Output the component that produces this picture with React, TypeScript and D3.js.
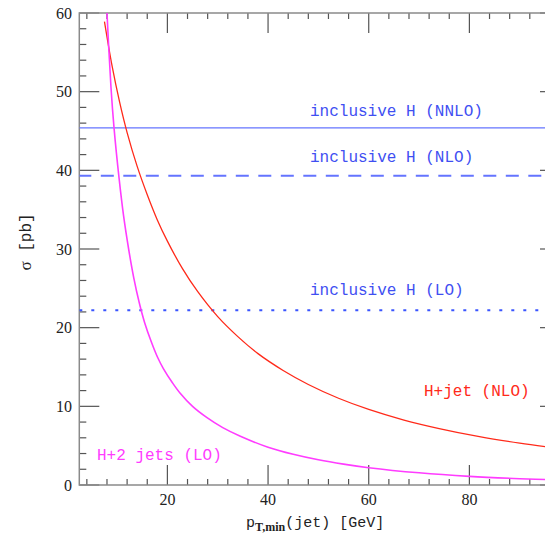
import React from "react";
import * as d3 from "d3";

const W = 545;
const H = 537;

// H+jet (NLO): pT,min [GeV] and sigma [pb]
const hjetPt = [7.5, 9, 10.5, 12, 14, 16, 18, 20, 23, 26, 30, 34, 38, 43, 48, 54, 60, 67, 74, 82, 90, 98];
const hjetSigma = [58.9, 53.3, 48.7, 44.8, 40.5, 36.9, 33.7, 31.0, 27.5, 24.6, 21.4, 18.86, 16.7, 14.56, 12.78, 11.03, 9.61, 8.26, 7.18, 6.15, 5.32, 4.62];

// H+2 jets (LO)
const h2jPt = [7.6, 8, 8.8, 9.4, 10.4, 11.3, 12.3, 13.3, 14.4, 15.5, 16.8, 18, 19.2, 21, 22.5, 25, 27.8, 31, 34.5, 40, 45, 50, 55, 60, 70, 80, 90, 98];
const h2jSigma = [66, 60, 50.5, 45.4, 39.0, 34.2, 30.0, 26.4, 23.2, 20.6, 18.2, 16.3, 14.8, 13.0, 11.7, 10.0, 8.6, 7.3, 6.2, 4.8, 3.9, 3.2, 2.65, 2.2, 1.55, 1.1, 0.8, 0.63];

// inclusive H reference values
const inclusiveLabels = ["inclusive H (NNLO)", "inclusive H (NLO)", "inclusive H (LO)"];
const inclusiveValues = [45.4, 39.3, 22.2];

const xMajorTicks = [20, 40, 60, 80];
const yMajorTicks = [0, 10, 20, 30, 40, 50, 60];

const L = 79.3, R = 560, T = 13, B = 485;

export default function App() {
  const x = d3.scaleLinear().domain([2.5, 98]).range([L, R]);
  const y = d3.scaleLinear().domain([0, 60]).range([B, T]);

  const line = d3
    .line<[number, number]>()
    .x((d) => x(d[0]))
    .y((d) => y(d[1]))
    .curve(d3.curveCatmullRom.alpha(0.5));

  const hjet = hjetPt.map((p, i) => [p, hjetSigma[i]] as [number, number]);
  const h2j = h2jPt.map((p, i) => [p, h2jSigma[i]] as [number, number]);

  const xMinor = d3.range(4, 98, 4).filter((v) => v % 20 !== 0);
  const yMinor = d3.range(2, 60, 2).filter((v) => v % 10 !== 0);

  const axisCol = "#8a8a8a";
  const tickCol = "#555";
  const blueLine = "#6474ff";
  const blueText = "#3f4ff2";
  const red = "#ff2a1a";
  const mag = "#ff3cff";
  const mono = "'Liberation Mono', 'DejaVu Sans Mono', monospace";
  const serif = "'Liberation Serif', 'DejaVu Serif', serif";

  const dashes = ["none", "13 9.5", "3 9"];
  const widths = [1.4, 2, 2];
  const labelDy = [-12, -14, -15];

  return (
    <svg
      width={W}
      height={H}
      style={{ position: "absolute", left: 0, top: 0, background: "#fff" }}
    >
      <defs>
        <clipPath id="plot">
          <rect x={L} y={T} width={R - L} height={B - T} />
        </clipPath>
      </defs>

      {/* ticks */}
      <g stroke={tickCol} strokeWidth={1.2}>
        {xMinor.map((v) => (
          <g key={"xm" + v}>
            <line x1={x(v)} x2={x(v)} y1={B} y2={B - 6} />
            <line x1={x(v)} x2={x(v)} y1={T} y2={T + 6} />
          </g>
        ))}
        {xMajorTicks.map((v) => (
          <g key={"xM" + v}>
            <line x1={x(v)} x2={x(v)} y1={B} y2={B - 20} />
            <line x1={x(v)} x2={x(v)} y1={T} y2={T + 20} />
          </g>
        ))}
        {yMinor.map((v) => (
          <g key={"ym" + v}>
            <line x1={L} x2={L + 7} y1={y(v)} y2={y(v)} />
            <line x1={R} x2={R - 7} y1={y(v)} y2={y(v)} />
          </g>
        ))}
        {yMajorTicks.map((v) => (
          <g key={"yM" + v}>
            <line x1={L} x2={L + 20} y1={y(v)} y2={y(v)} />
            <line x1={R} x2={R - 20} y1={y(v)} y2={y(v)} />
          </g>
        ))}
      </g>

      {/* frame */}
      <rect x={L} y={T} width={R - L} height={B - T} fill="none" stroke={axisCol} strokeWidth={1.5} />

      {/* tick labels */}
      <g fontFamily={serif} fontSize={16} fill="#222">
        {xMajorTicks.map((v) => (
          <text key={"xl" + v} x={x(v)} y={505} textAnchor="middle">
            {v}
          </text>
        ))}
        {yMajorTicks.map((v) => (
          <text key={"yl" + v} x={72} y={y(v)} textAnchor="end" dominantBaseline="central">
            {v}
          </text>
        ))}
      </g>

      {/* inclusive lines and curves */}
      <g clipPath="url(#plot)">
        {inclusiveValues.map((v, i) => (
          <line
            key={"inc" + i}
            x1={L}
            x2={R}
            y1={y(v)}
            y2={y(v)}
            stroke={i === 2 ? "#3a55ff" : blueLine}
            strokeWidth={widths[i]}
            strokeDasharray={dashes[i]}
            strokeDashoffset={i === 1 ? 1 : 0}
          />
        ))}
        <path d={line(hjet) || ""} fill="none" stroke={red} strokeWidth={1.3} />
        <path d={line(h2j) || ""} fill="none" stroke={mag} strokeWidth={1.6} />
      </g>

      {/* labels */}
      <g fontFamily={mono} fontSize={16}>
        {inclusiveLabels.map((t, i) => (
          <text key={"il" + i} x={310} y={y(inclusiveValues[i]) + labelDy[i]} fill={blueText}>
            {t}
          </text>
        ))}
        <text x={424} y={396} fill={red}>
          H+jet (NLO)
        </text>
        <text x={97} y={460} fill={mag}>
          H+2 jets (LO)
        </text>
      </g>

      {/* x axis title */}
      <text x={246} y={527} fontFamily={mono} fontSize={15} fill="#222">
        p
        <tspan fontFamily={serif} fontSize={12} fontWeight="bold" dy={4}>
          T,min
        </tspan>
        <tspan dy={-4}>(jet) [GeV]</tspan>
      </text>

      {/* y axis title */}
      <text
        transform="translate(31,242) rotate(-90)"
        textAnchor="middle"
        fontFamily={mono}
        fontSize={16}
        fill="#222"
      >
        <tspan fontFamily={serif} fontSize={17}>σ</tspan> [pb]
      </text>
    </svg>
  );
}
